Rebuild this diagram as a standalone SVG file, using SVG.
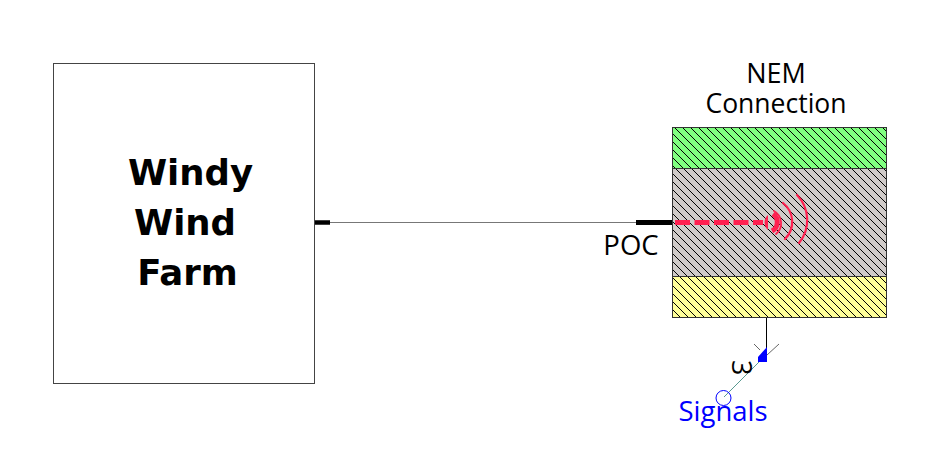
<svg xmlns="http://www.w3.org/2000/svg" width="933" height="467" viewBox="0 0 933 467">
<defs>
<style>
.t{font-family:"Open Sans","DejaVu Sans",sans-serif;font-size:26.500px;fill:#000}
.b{font-family:"DejaVu Sans",sans-serif;font-weight:bold;font-size:35.500px;fill:#000}
.s{fill:none;stroke:#ff2050}
</style>
<pattern id="h" width="8" height="8" patternUnits="userSpaceOnUse" patternTransform="translate(674 127)">
<path d="M-2 -2L10 10M-2 6L2 10M6 -2L10 2" stroke="#000" stroke-width="1" fill="none"/>
</pattern>
</defs>
<rect width="933" height="467" fill="#fff"/>
<g id="connectors">
<path d="M329 222.500H636" stroke="#777" stroke-width="1" fill="none"/>
<path d="M315 222.500H330" stroke="#000" stroke-width="4.500" fill="none"/>
<path d="M636 222.500H672" stroke="#000" stroke-width="5" fill="none"/>
<path d="M766.500 318V355" stroke="#000" stroke-width="1" fill="none"/>
<path d="M760 361L724 397" stroke="#5a9a90" stroke-width="1" fill="none"/>
</g>
<g id="windfarm">
<rect x="53.500" y="63.500" width="261" height="320" fill="#fff" stroke="#444" stroke-width="1"/>
<text class="b" x="190.500" y="185" text-anchor="middle">Windy</text>
<text class="b" x="185" y="235" text-anchor="middle">Wind</text>
<text class="b" x="187.500" y="285" text-anchor="middle">Farm</text>
</g>
<g id="nem">
<rect x="672" y="127.500" width="214" height="41" fill="#80ff80"/>
<rect x="672" y="168.500" width="214" height="108" fill="#d0cbc9"/>
<rect x="672" y="276.500" width="214" height="41" fill="#ffff99"/>
<rect x="672" y="127.500" width="214" height="190" fill="url(#h)"/>
<rect x="672.500" y="127.500" width="214" height="41" fill="none" stroke="#333"/>
<rect x="672.500" y="168.500" width="214" height="108" fill="none" stroke="#333"/>
<rect x="672.500" y="276.500" width="214" height="41" fill="none" stroke="#333"/>
<text class="t" x="776" y="83" text-anchor="middle" style="font-size:27px">NEM</text>
<text class="t" x="776" y="113" text-anchor="middle">Connection</text>
</g>
<g id="poc"><text class="t" x="631" y="255" text-anchor="middle" style="font-size:27.500px">POC</text></g>
<g id="signal">
<path d="M675 222.500H763" class="s" stroke-width="5" stroke-dasharray="15 4.500"/>
<path d="M768 215A10 10 0 0 0 768 230Z" fill="#ff2050"/>
<path class="s" stroke-width="5" d="M773 214A10 10 0 0 1 772 231"/>
<path class="s" stroke-width="1.800" stroke-linecap="round" d="M774 211A14 14 0 0 1 776 234"/>
<path class="s" stroke-width="2.200" stroke-linecap="round" d="M783 203A24 24 0 0 1 785 239"/>
<path class="s" stroke-width="2.200" stroke-linecap="round" d="M797 195A36 36 0 0 1 799 243"/>
</g>
<g id="signals">
<path d="M754 344L760 350M779 344L767 355" stroke="#666" stroke-width="1" fill="none"/>
<path d="M767 347V362H758V357Z" fill="#0000ff"/>
<text class="t" transform="translate(732 360) rotate(90)" style="font-size:27px">3</text>
<circle cx="723.500" cy="398" r="7.500" fill="none" stroke="#0000ff" stroke-width="1"/>
<text class="t" x="723" y="421" text-anchor="middle" style="fill:#0000ff;font-size:27.500px">Signals</text>
</g>
</svg>
